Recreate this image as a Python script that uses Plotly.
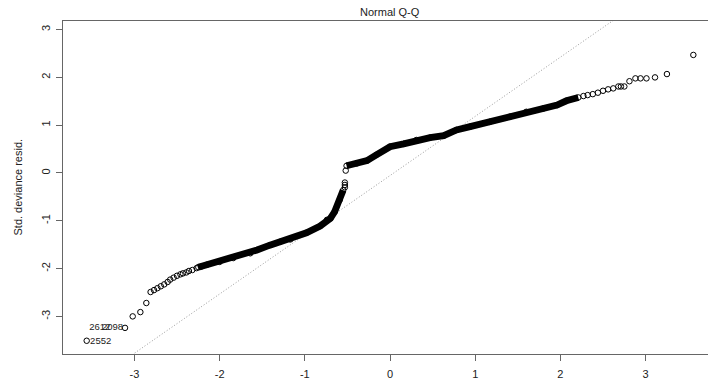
import plotly.graph_objects as go

# ---- data ----
# dense lower branch (theoretical quantile, std. deviance residual)
band_lo_x = [-2.25, -2.15, -2.00, -1.84, -1.64, -1.56, -1.41, -1.29, -1.17, -0.98, -0.82, -0.74, -0.70, -0.65, -0.59, -0.55]
band_lo_y = [-1.97, -1.92, -1.86, -1.78, -1.68, -1.61, -1.51, -1.44, -1.39, -1.25, -1.11, -0.98, -0.95, -0.81, -0.56, -0.36]

# dense upper branch
band_hi_x = [-0.51, -0.39, -0.27, -0.16, 0.00, 0.16, 0.31, 0.47, 0.63, 0.78, 0.94, 1.17, 1.41, 1.60, 1.80, 1.96, 2.07, 2.21]
band_hi_y = [0.15, 0.20, 0.26, 0.38, 0.55, 0.61, 0.69, 0.74, 0.78, 0.90, 0.97, 1.07, 1.18, 1.28, 1.35, 1.42, 1.51, 1.58]

# individually visible points
tail_lo_x = [-3.56, -3.11, -3.02, -2.93, -2.86, -2.81, -2.77, -2.73, -2.69, -2.65, -2.61, -2.58, -2.54, -2.50, -2.46, -2.43, -2.39, -2.36, -2.32, -2.27, -2.22]
tail_lo_y = [-3.51, -3.24, -3.00, -2.91, -2.72, -2.49, -2.45, -2.41, -2.37, -2.33, -2.28, -2.23, -2.19, -2.15, -2.12, -2.10, -2.08, -2.05, -2.03, -1.99, -1.96]

gap_x = [-0.53, -0.53, -0.53, -0.52]
gap_y = [-0.30, -0.25, -0.20, 0.05]

tail_hi_x = [2.27, 2.32, 2.38, 2.44, 2.50, 2.56, 2.62, 2.68, 2.71, 2.75, 2.81, 2.88, 2.94, 3.01, 3.11, 3.25, 3.56]
tail_hi_y = [1.61, 1.63, 1.65, 1.68, 1.72, 1.75, 1.77, 1.81, 1.81, 1.81, 1.92, 1.98, 1.98, 1.98, 2.00, 2.07, 2.47]

# labelled observations
label_text = ["2552", "2612", "2098"]
label_x = [-3.52, -3.53, -3.38]
label_y = [-3.53, -3.24, -3.23]

# reference line (qqline)
qq_intercept = -0.054
qq_slope = 1.239

x_ticks = [-3, -2, -1, 0, 1, 2, 3]
y_ticks = [-3, -2, -1, 0, 1, 2, 3]

x_range = [-3.838, 3.732]
y_range = [-3.787, 3.180]

FONT = "Liberation Sans, Arial, sans-serif"
INK = "#222222"
AXIS = "#666666"

fig = go.Figure()

# dotted qq line
lx = [-4.5, 4.5]
ly = [qq_intercept + qq_slope * v for v in lx]
fig.add_trace(go.Scatter(x=lx, y=ly, mode="lines",
                         line=dict(color="#8e8e8e", width=0.9, dash="1px,2px"),
                         hoverinfo="skip", showlegend=False))

circle = dict(symbol="circle-open", size=5.5, color="black", line=dict(width=1, color="black"))

for bx, by in [(band_lo_x, band_lo_y), (band_hi_x, band_hi_y)]:
    fig.add_trace(go.Scatter(x=bx, y=by, mode="lines+markers",
                             line=dict(color="black", width=6.8),
                             marker=circle, showlegend=False))

for tx, ty in [(tail_lo_x, tail_lo_y), (gap_x, gap_y), (tail_hi_x, tail_hi_y)]:
    fig.add_trace(go.Scatter(x=tx, y=ty, mode="markers", marker=circle, showlegend=False))

fig.add_trace(go.Scatter(x=label_x, y=label_y, mode="text", text=label_text,
                         textposition="middle right",
                         textfont=dict(family=FONT, size=9.5, color=INK),
                         showlegend=False))

fig.update_layout(
    width=708, height=383,
    margin=dict(l=63, r=0, t=21, b=29, autoexpand=False),
    paper_bgcolor="white", plot_bgcolor="white",
    font=dict(family=FONT, size=11, color=INK),
    annotations=[
        dict(text="Normal Q-Q", xref="x", yref="paper", x=0, y=1, yshift=9,
             showarrow=False, xanchor="center", yanchor="middle",
             font=dict(family=FONT, size=11, color=INK)),
        dict(text="Std. deviance resid.", xref="paper", yref="paper", x=0, y=0.5,
             xshift=-46, textangle=-90, showarrow=False,
             xanchor="center", yanchor="middle",
             font=dict(family=FONT, size=11, color=INK)),
    ],
)

fig.update_xaxes(range=x_range, tickvals=x_ticks, ticktext=[str(v) for v in x_ticks],
                 automargin=False,
                 showgrid=False, zeroline=False, showline=True, mirror=True,
                 linecolor=AXIS, linewidth=1, ticks="outside", ticklen=6,
                 ticklabelstandoff=4,
                 tickcolor=AXIS, tickfont=dict(family=FONT, size=11, color=INK))
fig.update_yaxes(range=y_range, tickvals=y_ticks, ticktext=[str(v) for v in y_ticks],
                 automargin=False,
                 showgrid=False, zeroline=False, showline=True, mirror=False,
                 linecolor=AXIS, linewidth=1, ticks="outside", ticklen=6,
                 ticklabelstandoff=2,
                 tickcolor=AXIS, tickangle=-90,
                 tickfont=dict(family=FONT, size=11, color=INK))

fig.write_html("out.html",
               config={"displayModeBar": False},
               post_script="document.body.style.margin='0';document.body.style.overflow='hidden';")
